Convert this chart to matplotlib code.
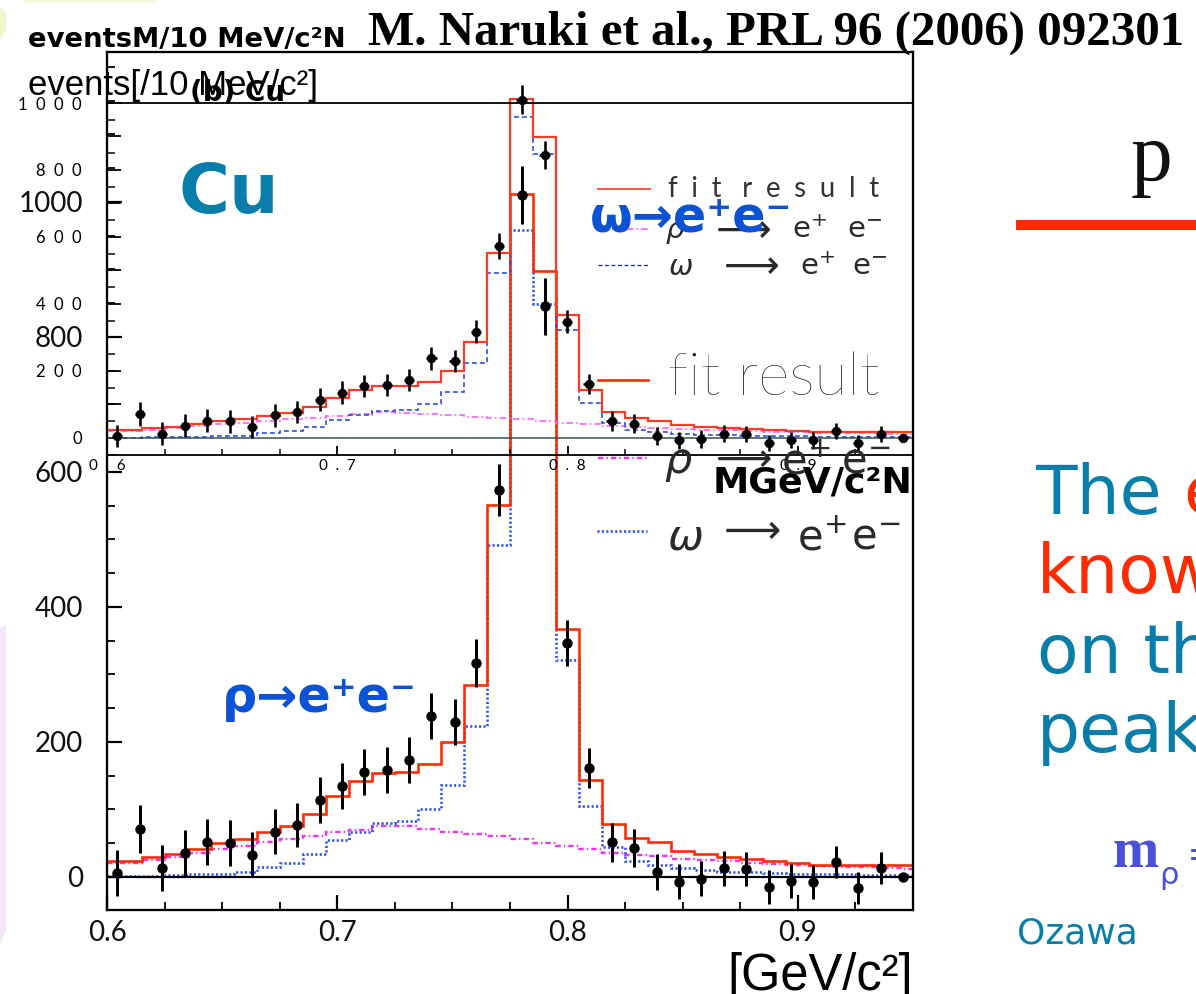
import matplotlib
matplotlib.use("Agg")
import matplotlib.pyplot as plt
from matplotlib import font_manager as fm
from matplotlib.lines import Line2D
from matplotlib.patches import Polygon
from matplotlib.ticker import MultipleLocator

W, H, DPI = 1196, 994, 100
PT = 72.0 / DPI  # points per pixel

# ---------------- data: e+e- invariant mass, Cu target ----------------
# template binning (GeV/c^2)
bin_edges = [0.600, 0.615, 0.625, 0.635, 0.645, 0.655, 0.665, 0.675, 0.685,
             0.695, 0.705, 0.715, 0.725, 0.735, 0.745, 0.755, 0.765, 0.775,
             0.785, 0.795, 0.805, 0.815, 0.825, 0.835, 0.845, 0.855, 0.865,
             0.875, 0.885, 0.895, 0.905, 0.915, 0.925, 0.935, 0.945, 0.950]
fit_total = [23, 29, 34, 41, 50, 56, 66, 75, 93, 120, 142, 154, 156, 168, 200,
             285, 551, 1012, 898, 367, 144, 78, 58, 51, 39, 34, 30, 26, 24, 20,
             18, 18, 18, 18, 17]
omega_part = [1, 2, 3, 4, 5, 7, 14, 20, 34, 54, 67, 80, 83, 100, 136,
              224, 492, 958, 848, 321, 105, 45, 24, 18, 13, 10, 8, 7, 6, 5,
              4, 4, 3, 3, 3]
rho_part = [21, 25, 30, 36, 41, 46, 51, 56, 60, 66, 70, 76, 75, 71, 67,
            63, 60, 56, 50, 46, 41, 36, 33, 31, 27, 25, 23, 21, 19, 17,
            16, 15, 14, 13, 12]

# measured spectrum (points)
mass = [0.6043, 0.6143, 0.6239, 0.6339, 0.6435, 0.6535, 0.6630, 0.6730, 0.6826,
        0.6926, 0.7022, 0.7117, 0.7217, 0.7313, 0.7409, 0.7509, 0.7604, 0.7704,
        0.7800, 0.7900, 0.7996, 0.8091, 0.8191, 0.8287, 0.8387, 0.8483, 0.8578,
        0.8678, 0.8774, 0.8874, 0.8970, 0.9065, 0.9165, 0.9261, 0.9361, 0.9457]
counts = [6, 71, 13, 36, 52, 50, 33, 67, 77, 114, 135, 155, 158, 173, 238, 230,
          317, 573, 1010, 845, 347, 161, 51, 43, 7, -7, -3, 13, 12, -15, -6, -7,
          22, -16, 13, 0]
count_err = [34, 35, 34, 34, 34, 34, 33, 33, 33, 34, 34, 34, 34, 34, 34, 34,
             35, 38, 43, 42, 34, 30, 29, 28, 27, 26, 26, 26, 25, 25, 25, 25,
             24, 24, 24, 4]

x_major = [0.6, 0.7, 0.8, 0.9]
x_labels = ['0.6', '0.7', '0.8', '0.9']
big_y_major = [0, 200, 400, 600, 800, 1000]
big_y_labels = ['0', '200', '400', '600', '800', '1000']
small_y_major = [0, 100, 200, 300, 400, 500, 600, 700, 800, 900, 1000]
small_y_labels = ['0', '', '200', '', '400', '', '600', '', '800', '', '1000']

RED = '#ff2a00'
TEAL = '#0a7eab'
BLUE = '#0b52d4'
MAG = '#ee33ee'
OMEGA_BLUE = '#2a4dff'
INK = '#2a2a2a'


def light_family():
    for fam in ['Lato', 'Roboto', 'Open Sans', 'Inter', 'Noto Sans']:
        for fe in fm.fontManager.ttflist:
            if fe.name != fam or 'italic' in str(fe.style).lower():
                continue
            w = fe.weight
            if isinstance(w, str):
                w = fm.weight_dict.get(w, 400)
            if w <= 300:
                return fam
    return 'DejaVu Sans'


LIGHT = light_family()
THIN = dict(family=[LIGHT, 'DejaVu Sans'], weight='normal')
HAIR = dict(family=[LIGHT, 'DejaVu Sans'], weight='light')


def spaced(s, sep='\u2002'):
    return sep.join(s)


fig = plt.figure(figsize=(W / DPI, H / DPI), dpi=DPI)
fig.patch.set_facecolor('white')
renderer = fig.canvas.get_renderer()


def fx(px):
    return px / W


def fy(py):
    return 1 - py / H


def rect(l, t, r, b):
    return [fx(l), fy(b), (r - l) / W, (b - t) / H]


def ftext(x, y, s, width=None, **kw):
    """Place a text in pixel coordinates; optionally scale it to a given width."""
    kw.setdefault('va', 'baseline')
    t = fig.text(fx(x), fy(y), s, **kw)
    if width is not None:
        w = t.get_window_extent(renderer).width
        t.set_fontsize(t.get_fontsize() * width / w)
    return t


def fline(x0, x1, y, **kw):
    fig.add_artist(Line2D([fx(x0), fx(x1)], [fy(y), fy(y)], **kw))


# faint slide decorations at the left edge
fig.add_artist(Polygon([[fx(0), fy(6)], [fx(7), fy(14)], [fx(6), fy(30)], [fx(0), fy(40)]],
                       closed=True, color='#eef7cf', lw=0))
fig.add_artist(Polygon([[fx(22), fy(0)], [fx(160), fy(0)], [fx(150), fy(3)], [fx(25), fy(3)]],
                       closed=True, color='#f3f9dc', lw=0))
fig.add_artist(Polygon([[fx(0), fy(628)], [fx(6), fy(625)], [fx(6), fy(930)], [fx(0), fy(945)]],
                       closed=True, color='#f3e7fb', lw=0))

ax_big = fig.add_axes(rect(107, 52, 913, 910))
ax_sm = fig.add_axes(rect(107, 103, 913, 455))

for ax in (ax_big, ax_sm):
    ax.set_facecolor('none')
    ax.set_xlim(0.6, 0.95)
ax_big.set_ylim(-49, 1222)
ax_sm.set_ylim(-51, 1000)
for s in ax_big.spines.values():
    s.set_linewidth(2.3 * PT)
for s in ax_sm.spines.values():
    s.set_linewidth(1.8 * PT)

# ---- large panel ----
ax_big.axhline(0, color='black', lw=2.2 * PT)
ax_big.stairs(rho_part, bin_edges, baseline=None, color=MAG, lw=2.4 * PT,
              linestyle=(0, (2.2, 1.3, 0.6, 1.3)))
ax_big.stairs(omega_part, bin_edges, baseline=None, color=OMEGA_BLUE, lw=2.6 * PT,
              linestyle=(0, (0.8, 0.9)))
ax_big.stairs(fit_total, bin_edges, baseline=None, color=RED, lw=2.6 * PT)
ax_big.errorbar(mass, counts, yerr=count_err, fmt='o', color='black',
                ms=9 * PT, elinewidth=3 * PT, capsize=0, zorder=5)

ax_big.set_xticks(x_major, labels=x_labels)
ax_big.xaxis.set_minor_locator(MultipleLocator(0.025))
ax_big.set_yticks(big_y_major, labels=big_y_labels)
ax_big.yaxis.set_minor_locator(MultipleLocator(50))
ax_big.tick_params(which='both', direction='in', top=False, right=False)
ax_big.tick_params(which='major', length=15 * PT, width=2.2 * PT)
ax_big.tick_params(which='minor', length=8 * PT, width=1.8 * PT)
ax_big.tick_params(axis='y', pad=24 * PT, labelsize=20, labelcolor='#111111')
ax_big.tick_params(axis='x', pad=10 * PT, labelsize=20, labelcolor='#111111')
for lbl in ax_big.get_xticklabels() + ax_big.get_yticklabels():
    lbl.set_fontfamily([LIGHT, 'DejaVu Sans'])
    lbl.set_fontweight('normal')

# ---- small panel ----
ax_sm.axhline(0, color='#2f4f4f', lw=1.5 * PT)
ax_sm.stairs(rho_part, bin_edges, baseline=None, color='#ff55ff', lw=1.6 * PT,
             linestyle=(0, (4, 2, 1, 2)), clip_on=False)
ax_sm.stairs(omega_part, bin_edges, baseline=None, color='#2448e0', lw=1.6 * PT,
             linestyle=(0, (3, 2)), clip_on=False)
ax_sm.stairs(fit_total, bin_edges, baseline=None, color='#ff3a22', lw=2.2 * PT,
             clip_on=False)
eb = ax_sm.errorbar(mass, counts, yerr=count_err, xerr=0.0022, fmt='o', color='black',
                    ms=8 * PT, elinewidth=2.6 * PT, capsize=0, zorder=5)
eb[0].set_clip_on(False)
for c in eb[2]:
    c.set_clip_on(False)

ax_sm.set_xticks(x_major, labels=[spaced(s) for s in x_labels])
ax_sm.xaxis.set_minor_locator(MultipleLocator(0.025))
ax_sm.set_yticks(small_y_major, labels=[spaced(s) for s in small_y_labels])
ax_sm.yaxis.set_minor_locator(MultipleLocator(50))
ax_sm.tick_params(which='both', direction='in', top=False, right=False)
ax_sm.tick_params(axis='y', which='major', length=14 * PT, width=1.8 * PT)
ax_sm.tick_params(axis='y', which='minor', length=8 * PT, width=1.5 * PT)
ax_sm.tick_params(axis='x', which='major', length=9 * PT, width=1.8 * PT)
ax_sm.tick_params(axis='x', which='minor', length=6 * PT, width=1.5 * PT)
ax_sm.tick_params(axis='y', pad=25 * PT, labelsize=12, labelcolor='black')
ax_sm.tick_params(axis='x', pad=4 * PT, labelsize=11, labelcolor='black')
for lbl in ax_sm.get_xticklabels() + ax_sm.get_yticklabels():
    lbl.set_fontfamily([LIGHT, 'DejaVu Sans'])
    lbl.set_fontweight('normal')

# ---- axis titles ----
ftext(28, 47, 'eventsM/10 MeV/c\u00b2N', width=318, family='DejaVu Sans', weight='bold', size=17)
ftext(190, 101, '(b) Cu', family='DejaVu Sans', weight='bold', size=20)
ftext(28, 95, 'events[/10 MeV/c\u00b2]', width=290, family='Liberation Sans', size=24)
ftext(913, 493, 'MGeV/c\u00b2N', width=200, family='DejaVu Sans', weight='bold', size=20, ha='right')
ftext(913, 990, '[GeV/c\u00b2]', width=186, family='Liberation Sans', size=33, ha='right')


# ---- legends (line sample, then the label pieces) ----
def legend_row(base, sym_x, sym, arrow_x, arrow_y, arrow_w, ep_x, em_x, size, esize):
    ftext(sym_x, base, sym, size=size, color=INK)
    ftext(arrow_x, arrow_y, r'$\longrightarrow$', width=arrow_w, size=size, color=INK, va='center')
    ftext(ep_x, base, r'$\mathrm{e}^{+}$', size=esize, color=INK)
    ftext(em_x, base, r'$\mathrm{e}^{-}$', size=esize, color=INK)


# small panel
fline(598, 650, 189, color='#ff5a45', lw=2 * PT)
ftext(668, 197, spaced('fit') + '\u2003' + spaced('result'), width=212, size=16,
      color='#333333', **THIN)
fline(598, 650, 229, color='#ff55ff', lw=1.6 * PT, linestyle=(0, (4, 2, 1, 2)))
legend_row(238, 665, r'$\rho$', 708, 229, 64, 792, 847, 21, 21)
fline(598, 650, 265, color='#1a2a9a', lw=1.3 * PT, linestyle=(0, (3, 2)))
legend_row(275, 668, r'$\omega$', 716, 265, 64, 800, 852, 21, 21)

# large panel
fline(598, 648, 380, color=RED, lw=2.6 * PT)
ftext(668, 395, 'fit result', width=212, size=33, color='black', **HAIR)
fline(598, 648, 458, color=MAG, lw=2.4 * PT, linestyle=(0, (2.2, 1.3, 0.6, 1.3)))
legend_row(473, 664, r'$\rho$', 708, 458, 64, 781, 841, 31, 30)
fline(597, 647, 531, color=OMEGA_BLUE, lw=2.6 * PT, linestyle=(0, (0.8, 0.9)))
legend_row(549, 667, r'$\omega$', 716, 531, 65, 797, 851, 31, 30)

# ---- annotations ----
ftext(229, 213, 'Cu', family='DejaVu Sans', weight='bold', size=50, color=TEAL, ha='center')
ftext(590, 231, '\u03c9\u2192e\u207ae\u207b', width=202, family='DejaVu Sans', weight='bold',
      size=34, color=BLUE)
ftext(222, 712, '\u03c1\u2192e\u207ae\u207b', width=195, family='DejaVu Sans', weight='bold',
      size=36, color=BLUE)

# ---- slide text ----
ftext(368, 45, 'M. Naruki et al., PRL 96 (2006) 092301', width=817, family='Liberation Serif',
      weight='bold', size=30, color='black')
ftext(1152, 180, 'p', family='Liberation Serif', size=60, color='#111111', ha='center')
fline(1016, 1196, 225, color=RED, lw=10 * PT, solid_capstyle='butt')

ftext(1035, 514, 'The ', family='DejaVu Sans', size=49, color=TEAL)
ftext(1183, 514, 'e', family='DejaVu Sans', size=49, color=RED)
ftext(1037, 593, 'know', family='DejaVu Sans', size=49, color=RED)
ftext(1037, 673, 'on th', family='DejaVu Sans', size=49, color=TEAL)
ftext(1037, 752, 'peak', family='DejaVu Sans', size=49, color=TEAL)

ftext(1113, 867, 'm', family='Liberation Serif', weight='bold', size=40, color='#4b50d6')
ftext(1159, 884, '\u03c1', family='DejaVu Sans', size=22, color='#4b50d6')
ftext(1187, 867, '=', family='DejaVu Sans', size=28, color='#4b50d6')
ftext(1017, 943, 'Ozawa', family='DejaVu Sans', size=26, color=TEAL)

fig.savefig('out.png', dpi=DPI, facecolor='white')
